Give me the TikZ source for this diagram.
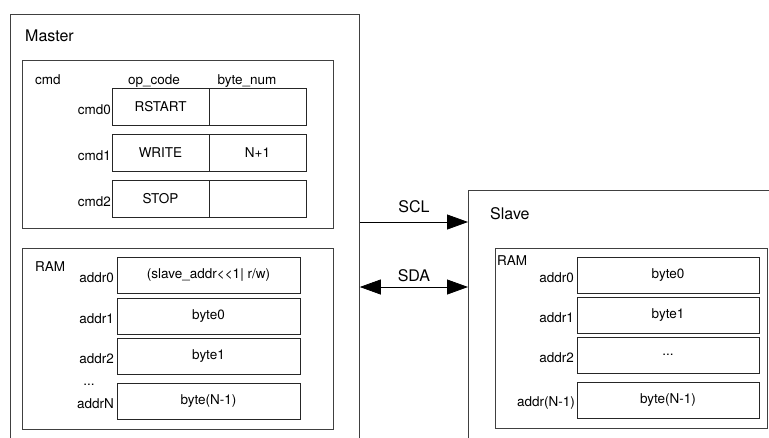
\documentclass[tikz,border=0pt]{standalone}
\usepackage{fontspec}
\setmainfont{TeX Gyre Heros}
\usetikzlibrary{positioning, arrows.meta}

\begin{document}
\begin{tikzpicture}[x=1pt, y=-1pt, >={Triangle[length=21pt, width=15pt]},
    font=\fontsize{13.5}{16}\selectfont,
    frame/.style={draw=black!75, line width=0.8pt, inner sep=0pt},
    cell/.style={draw=black!85, line width=0.8pt, minimum height=36pt, inner sep=0pt, outer sep=0pt},
    opcell/.style={cell, minimum width=97pt, minimum height=37pt},
    ramcell/.style={cell, minimum width=183pt},
    lbl/.style={anchor=east, inner sep=0pt, xshift=-3pt, yshift=-3pt},
    title/.style={anchor=west, inner sep=0pt, font=\fontsize{16}{19}\selectfont},
    bus/.style={line width=0.8pt}]

    \useasboundingbox (0,0) rectangle (769,437);
    \clip (0,0) rectangle (769,437);

    % Master
    \node[frame, anchor=north west, minimum width=349pt, minimum height=440pt] (master) at (10,14) {};
    \node[title] (mtitle) at (25,36) {Master};

    % table of commands
    \node[frame, anchor=north west, minimum width=311pt, minimum height=168pt] (cmd) at (22,60) {};
    \node[anchor=base west, inner sep=0pt] (cmdlbl) at (35,84) {cmd};
    \node[anchor=base, inner sep=0pt] (ophead) at (154,84) {op\_code};
    \node[anchor=base, inner sep=0pt] (numhead) at (247,84) {byte\_num};

    \node[opcell, anchor=north west] (op0) at (112,88) {RSTART};
    \node[opcell, right=0pt of op0] (num0) {};
    \node[opcell, below=9pt of op0] (op1) {WRITE};
    \node[opcell, right=0pt of op1] (num1) {N+1};
    \node[opcell, below=9pt of op1] (op2) {STOP};
    \node[opcell, right=0pt of op2] (num2) {};

    \node[lbl, xshift=2pt] at (op0.west) {cmd0};
    \node[lbl, xshift=2pt] at (op1.west) {cmd1};
    \node[lbl, xshift=2pt] at (op2.west) {cmd2};

    % RAM of the master
    \node[frame, anchor=north west, minimum width=311pt, minimum height=181pt] (mram) at (22,248) {};
    \node[anchor=base west, inner sep=0pt] (mramlbl) at (35,271) {RAM};

    \node[ramcell, anchor=north west] (m0) at (117,257) {(slave\_addr<\kern0pt<1| r/w)};
    \node[ramcell, below=5pt of m0] (m1) {byte0};
    \node[ramcell, below=4pt of m1] (m2) {byte1};
    \node[ramcell, below=9pt of m2] (m3) {byte(N-1)};

    \node[lbl] at (m0.west) {addr0};
    \node[lbl] at (m1.west) {addr1};
    \node[lbl] at (m2.west) {addr2};
    \node[lbl] at (m3.west) {addrN};
    \node[anchor=base, inner sep=0pt] (mdots) at (89,385) {...};

    % Slave
    \node[frame, anchor=north west, minimum width=330pt, minimum height=270pt] (slave) at (468,190) {};
    \node[title] (stitle) at (490,214) {Slave};

    \node[frame, anchor=north west, minimum width=272pt, minimum height=180pt] (sram) at (495,248) {};
    \node[anchor=base west, inner sep=0pt] (sramlbl) at (497,265) {RAM};

    \node[ramcell, anchor=north west, minimum width=182pt] (s0) at (577,257) {byte0};
    \node[ramcell, minimum width=182pt, below=4pt of s0] (s1) {byte1};
    \node[ramcell, minimum width=182pt, below=4pt of s1] (s2) {...};
    \node[ramcell, minimum width=182pt, below=9pt of s2] (s3) {byte(N-1)};

    \node[lbl] at (s0.west) {addr0};
    \node[lbl] at (s1.west) {addr1};
    \node[lbl] at (s2.west) {addr2};
    \node[lbl, xshift=1pt] at (s3.west) {addr(N-1)};

    % bus lines
    \coordinate (scl) at (0,222);
    \coordinate (sda) at (0,287);
    \draw[bus, ->] (master.east |- scl) -- node[midway, above=9pt, inner sep=0pt, font=\fontsize{16}{19}\selectfont] {SCL} (slave.west |- scl);
    \draw[bus, <->] (master.east |- sda) -- node[midway, above=5pt, inner sep=0pt, font=\fontsize{16}{19}\selectfont] {SDA} (slave.west |- sda);

\end{tikzpicture}
\end{document}
